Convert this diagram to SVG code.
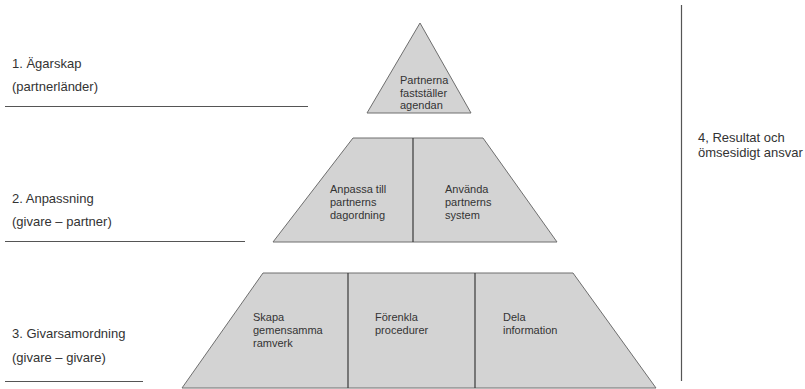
<svg xmlns="http://www.w3.org/2000/svg" width="805" height="389" viewBox="0 0 805 389">
<style>
.shape{fill:#d3d3d3;stroke:#6e6e6e;stroke-width:1}
.div{stroke:#3a3a3a;stroke-width:1.2}
.rule{stroke:#555;stroke-width:1.2}
.lbl{font-family:"Liberation Sans",Arial,sans-serif;font-size:13px;fill:#333}
.t{font-family:"Liberation Sans",Arial,sans-serif;font-size:11px;fill:#333}
</style>
<rect width="805" height="389" fill="#fff"/>
<g id="level1">
<polygon class="shape" points="420,23 471,113 367,113"/>
<text class="t" x="400" y="84">Partnerna</text>
<text class="t" x="400" y="97">fastställer</text>
<text class="t" x="400" y="109">agendan</text>
</g>
<g id="level2">
<polygon class="shape" points="353,138 483,138 557,242 273,242"/>
<line class="div" x1="413" y1="138" x2="413" y2="242"/>
<text class="t" x="330" y="193">Anpassa till</text>
<text class="t" x="330" y="206">partnerns</text>
<text class="t" x="330" y="219">dagordning</text>
<text class="t" x="445" y="193">Använda</text>
<text class="t" x="445" y="206">partnerns</text>
<text class="t" x="445" y="219">system</text>
</g>
<g id="level3">
<polygon class="shape" points="263,273 573,273 656,388 182,388"/>
<line class="div" x1="348" y1="273" x2="348" y2="388"/>
<line class="div" x1="475" y1="273" x2="475" y2="388"/>
<text class="t" x="253" y="321">Skapa</text>
<text class="t" x="253" y="334">gemensamma</text>
<text class="t" x="253" y="347">ramverk</text>
<text class="t" x="375" y="321">Förenkla</text>
<text class="t" x="375" y="334">procedurer</text>
<text class="t" x="503" y="321">Dela</text>
<text class="t" x="503" y="334">information</text>
</g>
<g id="label1">
<text class="lbl" x="12" y="68">1. Ägarskap</text>
<text class="lbl" x="12" y="91">(partnerländer)</text>
<line class="rule" x1="5" y1="106.5" x2="308" y2="106.5"/>
</g>
<g id="label2">
<text class="lbl" x="12" y="203">2. Anpassning</text>
<text class="lbl" x="12" y="226">(givare – partner)</text>
<line class="rule" x1="5" y1="241.5" x2="245" y2="241.5"/>
</g>
<g id="label3">
<text class="lbl" x="12" y="338">3. Givarsamordning</text>
<text class="lbl" x="12" y="362">(givare – givare)</text>
<line class="rule" x1="5" y1="381.5" x2="143" y2="381.5"/>
</g>
<g id="label4">
<line class="rule" x1="681.5" y1="5" x2="681.5" y2="381"/>
<text class="lbl" x="698" y="142">4, Resultat och</text>
<text class="lbl" x="698" y="157">ömsesidigt ansvar</text>
</g>
</svg>
